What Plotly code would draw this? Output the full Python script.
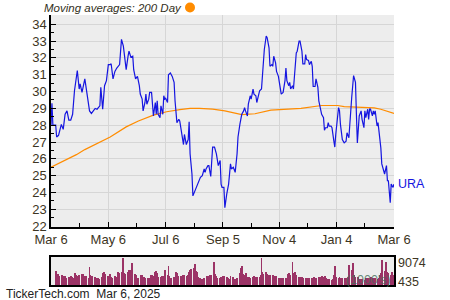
import plotly.graph_objects as go
import pandas as pd

START = "2024-03-06"
END = "2025-03-06"

# price (URA): calendar-day offsets from START and closing values
price_days = [0, 1, 2, 5, 6, 8, 11, 13, 15, 17, 19, 21, 23, 25, 28, 30, 31, 33, 36, 39, 41, 43, 45, 47, 49,
              52, 53, 55, 57, 59, 61, 63, 64, 66, 68, 70, 73, 74, 75, 77, 79, 80, 82, 83, 85, 87, 88, 90,
              92, 94, 95, 97, 98, 100, 101, 102, 104, 105, 107, 108, 109, 111, 112, 113, 114, 116, 117,
              119, 120, 121, 122, 124, 125, 127, 129, 131, 132, 134, 136, 137, 138, 140, 141, 142, 144,
              146, 147, 148, 150, 151, 153, 155, 157, 159, 161, 163, 164, 165, 167, 168, 170, 171, 172,
              174, 176, 178, 180, 181, 182, 184, 185, 187, 189, 191, 192, 194, 196, 198, 199, 201, 203,
              205, 206, 207, 209, 210, 212, 213, 215, 216, 218, 219, 221, 222, 224, 226, 227, 229, 230,
              232, 233, 235, 236, 237, 239, 240, 242, 243, 245, 247, 249, 250, 251, 253, 254, 255, 257,
              258, 260, 261, 262, 264, 265, 267, 268, 270, 271, 272, 274, 275, 277, 278, 279, 281, 282,
              284, 285, 287, 288, 290, 291, 292, 294, 295, 296, 298, 299, 301, 302, 303, 304, 305, 306,
              307, 308, 310, 312, 314, 315, 317, 318, 320, 322, 324, 325, 326, 327, 328, 330, 331, 333,
              334, 335, 337, 338, 339, 340, 342, 343, 344, 345, 347, 348, 350, 351, 352, 354, 355, 357,
              358, 359, 361, 362, 364, 365]
price_vals = [28.0, 29.3, 28.0, 28.0, 27.3, 27.4, 28.05, 27.75, 28.65, 28.85, 28.3, 28.3, 28.65, 30.05,
              31.25, 30.15, 30.45, 29.95, 30.75, 29.65, 28.85, 28.7, 28.85, 29.0, 28.95, 29.15, 30.25,
              28.95, 30.35, 30.65, 31.6, 31.6, 31.65, 30.75, 31.2, 31.4, 31.6, 32.4, 33.1, 32.7, 31.8,
              31.3, 32.1, 32.4, 32.05, 32.1, 31.3, 30.75, 30.9, 30.35, 29.85, 29.55, 28.85, 29.35,
              29.85, 29.25, 29.55, 29.95, 29.95, 29.05, 28.55, 29.35, 28.65, 29.45, 28.65, 28.45,
              29.15, 28.65, 29.75, 29.55, 29.6, 29.35, 31.0, 31.1, 30.9, 30.55, 29.45, 28.15, 28.35,
              28.25, 27.85, 27.15, 26.85, 27.45, 26.85, 27.15, 28.2, 26.3, 25.1, 23.8, 24.1, 24.4,
              24.6, 24.9, 25.0, 25.4, 25.2, 25.4, 25.6, 25.6, 24.95, 26.1, 26.7, 26.7, 26.3, 25.6,
              25.9, 24.5, 24.3, 24.3, 23.1, 23.9, 24.5, 25.7, 25.4, 25.5, 25.2, 26.3, 27.3, 28.05,
              28.65, 28.85, 29.05, 28.85, 28.55, 29.25, 29.75, 29.55, 30.15, 29.85, 29.75, 29.35,
              29.85, 30.05, 30.15, 31.8, 32.5, 33.3, 33.2, 32.6, 31.5, 31.6, 31.5, 32.1, 31.7, 31.2,
              30.9, 30.55, 29.85, 29.95, 30.65, 31.4, 30.65, 30.35, 30.55, 30.15, 30.35, 30.15, 31.7,
              32.3, 32.4, 33.0, 33.0, 32.4, 31.65, 31.65, 32.2, 31.9, 31.85, 31.6, 31.8, 31.5, 30.3,
              30.3, 30.75, 30.25, 29.45, 28.85, 28.65, 28.45, 27.7, 27.85, 27.85, 28.15, 27.95, 27.95,
              27.85, 27.05, 26.7, 27.45, 28.05, 28.65, 29.05, 28.85, 28.05, 27.15, 26.95, 27.05, 27.55,
              27.25, 28.25, 29.65, 30.95, 30.55, 28.65, 26.95, 27.75, 28.55, 28.85, 28.35, 27.85,
              28.85, 28.45, 28.95, 28.35, 28.95, 28.95, 28.55, 28.85, 28.65, 28.85, 27.95, 28.15,
              27.25, 26.65, 25.7, 25.3, 25.1, 25.6, 24.7, 24.7, 23.4, 24.5, 24.3, 24.5]

# 200-day moving average
ma_days = [0, 27, 36, 63, 80, 93, 109, 123, 137, 148, 158, 172, 185, 203, 217, 234, 266, 288, 305, 312,
           344, 351, 365]
ma_vals = [25.5, 26.25, 26.55, 27.3, 27.9, 28.25, 28.6, 28.8, 28.93, 29.0, 29.0, 28.95, 28.85, 28.63,
           28.68, 28.9, 29.0, 29.17, 29.17, 29.1, 29.03, 28.95, 28.7]

# daily volume (shares), one per trading day ending on END
volume = [4600, 3500, 3700, 3300, 3000, 3500, 3000, 2700, 2900, 2500,
          2700, 2500, 2900, 2600, 2400, 4000, 3300, 3000, 2700, 3200,
          3800, 3700, 3000, 2600, 2900, 2500, 5900, 3400, 2800, 3100,
          2600, 2200, 2000, 2400, 1900, 2700, 4000, 4200, 3600, 3300,
          3000, 2800, 3700, 2600, 2400, 2900, 2500, 2800, 4300, 4000,
          4500, 3800, 9074, 3900, 3600, 4200, 5100, 5000, 3200, 7200,
          3700, 3400, 2500, 1900, 2300, 3300, 3500, 2700, 2800, 2400,
          2500, 2300, 2500, 3400, 3200, 2900, 4200, 4600, 3900, 2700,
          2800, 3000, 2500, 2900, 5100, 3200, 6200, 3000, 2400, 2200,
          2600, 2700, 4400, 4000, 3000, 2900, 2800, 3300, 3100, 3400,
          3000, 3200, 4500, 5100, 5200, 5800, 6900, 4600, 4300, 2700,
          2200, 1900, 2100, 1600, 2300, 3000, 2900, 2700, 3200, 3300,
          7800, 3300, 3600, 3000, 2500, 2300, 2600, 2400, 3000, 2900,
          2800, 2500, 1900, 2000, 3000, 2600, 1900, 2000, 2100, 2400,
          4000, 5800, 6200, 3700, 3400, 3900, 2600, 2400, 2600, 2200,
          2600, 2900, 2700, 2500, 2800, 2600, 3500, 8900, 4400, 3800,
          4200, 3600, 3300, 3000, 3400, 3200, 3000, 2800, 3100, 2900,
          2400, 2000, 2300, 1900, 2200, 2500, 2100, 3800, 4100, 3400,
          7800, 4000, 3800, 4300, 3200, 2700, 2500, 2800, 2600, 2400,
          2200, 2000, 2400, 2100, 2300, 2500, 2400, 2600, 2200, 2500,
          2600, 2800, 2500, 2900, 2700, 3000, 2400, 1900, 1700, 2000,
          1800, 2100, 3500, 6200, 2700, 2500, 2600, 2300, 2500, 2200,
          2400, 2500, 2300, 2700, 6700, 5100, 7300, 3000, 3200, 2800,
          2600, 2000, 1900, 1800, 2000, 1700, 2200, 2400, 2500, 2300,
          2600, 2200, 2300, 2100, 2400, 2000, 2500, 3500, 4000, 8300,
          4600, 7800, 3700, 4400, 4000, 3300, 4200, 3500, 435]

tick_dates = ["2024-03-06", "2024-05-06", "2024-07-06", "2024-09-05", "2024-11-04", "2025-01-04", "2025-03-06"]
tick_labels = ["Mar 6", "May 6", "Jul 6", "Sep 5", "Nov 4", "Jan 4", "Mar 6"]
minor_dates = ["2024-04-05", "2024-06-05", "2024-08-06", "2024-10-05", "2024-12-04", "2025-02-03"]
y_ticks = list(range(22, 35))

start = pd.Timestamp(START)
price_dates = [start + pd.Timedelta(days=d) for d in price_days]
ma_dates = [start + pd.Timedelta(days=d) for d in ma_days]
vol_dates = pd.bdate_range(end=END, periods=len(volume))

TXT = "#3d3523"
FONT = "Liberation Sans, Arial, sans-serif"

fig = go.Figure()
fig.add_trace(go.Scatter(x=ma_dates, y=ma_vals, mode="lines",
                         line=dict(color="#FF8C00", width=1.2), xaxis="x", yaxis="y"))
fig.add_trace(go.Scatter(x=price_dates, y=price_vals, mode="lines",
                         line=dict(color="#1515E0", width=1.2), xaxis="x", yaxis="y"))
fig.add_trace(go.Bar(x=vol_dates, y=volume, marker=dict(color="#9B3366", line=dict(width=0)),
                     xaxis="x2", yaxis="y2"))

xr = [START, END]
fig.update_layout(
    width=450, height=300, margin=dict(l=0, r=0, t=0, b=0, autoexpand=False),
    paper_bgcolor="white", plot_bgcolor="#EDEDED", showlegend=False, bargap=0,
    font=dict(family=FONT, color=TXT, size=13),
    xaxis=dict(domain=[51/450, 394/450], anchor="y", type="date", range=xr, automargin=False,
               tickmode="array", tickvals=tick_dates, ticktext=tick_labels,
               ticks="inside", ticklen=5, tickcolor="black", showline=True, linecolor="black",
               linewidth=1.5, showgrid=True, gridcolor="#D6D6D6", gridwidth=1, zeroline=False,
               tickfont=dict(size=13, color=TXT),
               minor=dict(tickmode="array", tickvals=minor_dates, ticks="inside", ticklen=4,
                          tickcolor="black", showgrid=False)),
    yaxis=dict(domain=[1-227/300, 1-15/300], anchor="x", range=[21.95, 34.55], automargin=False,
               tickmode="array", tickvals=y_ticks, ticks="inside", ticklen=5, tickcolor="black",
               showline=True, linecolor="black", linewidth=1.5, showgrid=True,
               gridcolor="#D6D6D6", gridwidth=1, zeroline=False, tickfont=dict(size=13, color=TXT),
               minor=dict(dtick=0.5, tick0=22, ticks="inside", ticklen=3, tickcolor="black",
                          showgrid=False)),
    xaxis2=dict(domain=[51/450, 394/450], anchor="y2", type="date", range=xr, automargin=False,
                showticklabels=False, ticks="", showgrid=False, showline=True, linecolor="black",
                linewidth=1.5, mirror=True, zeroline=False),
    yaxis2=dict(domain=[1-285/300, 1-257/300], anchor="x2", range=[0, 9074*1.03], automargin=False,
                showticklabels=False, ticks="", showgrid=False, showline=True, linecolor="black",
                linewidth=1.5, mirror=True, zeroline=False),
)

annos = [
    dict(text="<i>Moving averages: 200 Day</i>", x=42/450, y=1-7.5/300, xanchor="left", yanchor="middle",
         font=dict(size=11.5, color="#333022")),
    dict(text="URA", x=396/450, y=1-184/300, xanchor="left", yanchor="middle",
         font=dict(size=12.5, color="#1515E0")),
    dict(text=f"{max(volume)}", x=396/450, y=1-263/300, xanchor="left", yanchor="middle",
         font=dict(size=12.5, color=TXT)),
    dict(text=f"{volume[-1]}", x=396/450, y=1-282/300, xanchor="left", yanchor="middle",
         font=dict(size=12.5, color=TXT)),
    dict(text="(1000's)", x=393/450, y=1-280/300, xanchor="right", yanchor="middle",
         font=dict(size=12.5, color="rgba(70,110,90,0.8)")),
    dict(text="TickerTech.com  Mar 6, 2025", x=4/450, y=1-294/300, xanchor="left", yanchor="middle",
         font=dict(size=12, color="#222222")),
]
for a in annos:
    fig.add_annotation(xref="paper", yref="paper", showarrow=False, **a)

fig.add_shape(type="circle", xref="paper", yref="paper",
              x0=185/450, x1=195/450, y0=1-12.5/300, y1=1-2.5/300,
              fillcolor="#FF8C00", line=dict(width=0))

fig.write_html("out.html")
